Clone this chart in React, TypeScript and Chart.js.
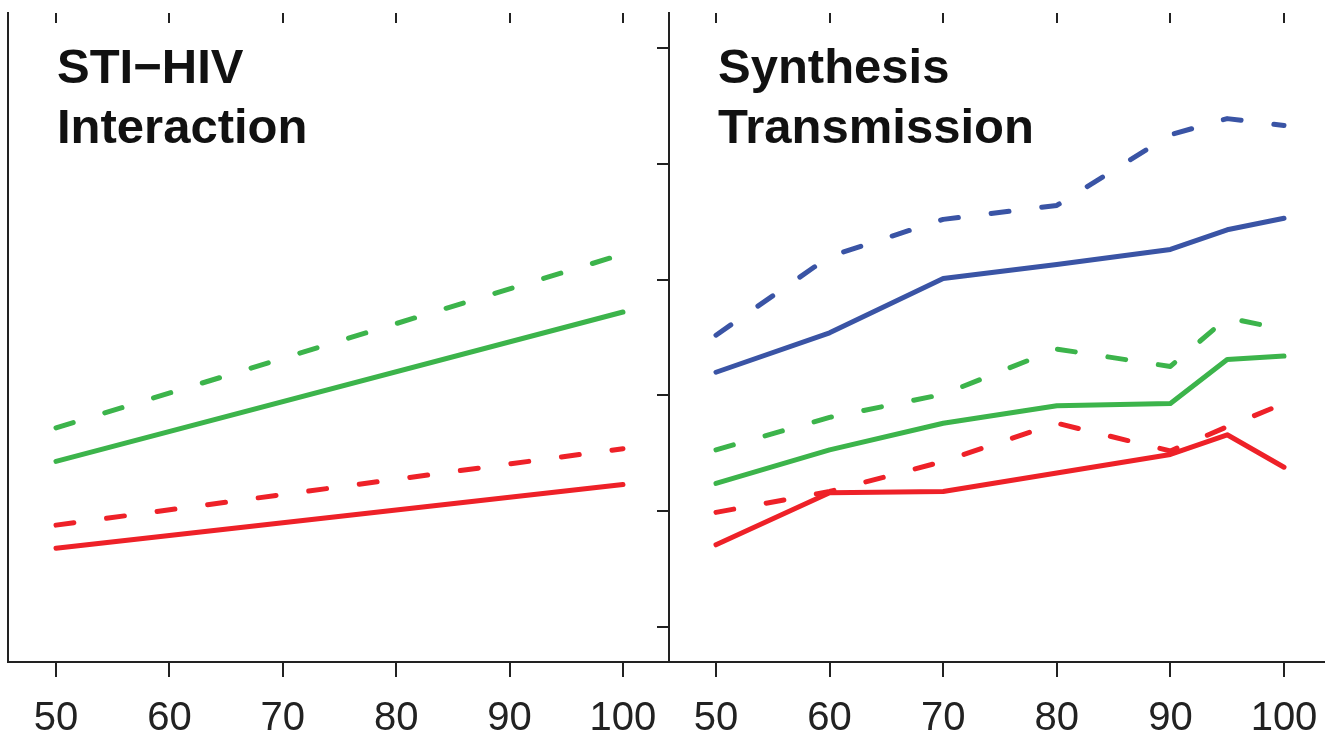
import React, { useEffect, useRef } from "react";
import { Chart, registerables } from "chart.js";

Chart.register(...registerables);
Chart.defaults.font.family = "'Liberation Sans', Arial, Helvetica, sans-serif";

// ---- data ----
const X_TICKS = [50, 60, 70, 80, 90, 100];
const Y_TICKS = [0, 1, 2, 3, 4, 5];

const LEFT_X = [50, 100];
const LEFT_GREEN_DASHED = [1.72, 3.22];
const LEFT_GREEN_SOLID = [1.43, 2.72];
const LEFT_RED_DASHED = [0.88, 1.54];
const LEFT_RED_SOLID = [0.68, 1.23];

const RIGHT_X = [50, 60, 70, 80, 90, 95, 100];
const RIGHT_BLUE_DASHED = [2.52, 3.2, 3.52, 3.64, 4.25, 4.39, 4.33];
const RIGHT_BLUE_SOLID = [2.2, 2.54, 3.01, 3.13, 3.26, 3.43, 3.53];
const RIGHT_GREEN_DASHED = [1.53, 1.81, 2.01, 2.4, 2.25, 2.67, 2.57];
const RIGHT_GREEN_SOLID = [1.24, 1.53, 1.76, 1.91, 1.93, 2.31, 2.34];
const RIGHT_RED_DASHED = [0.99, 1.17, 1.43, 1.76, 1.52, 1.73, 1.93];
const RIGHT_RED_SOLID = [0.71, 1.16, 1.17, 1.33, 1.49, 1.66, 1.38];

const LEFT_TITLE = ["STI\u2212HIV", "Interaction"];
const RIGHT_TITLE = ["Synthesis", "Transmission"];

// ---- styles ----
const GREEN = "#3cb44b";
const RED = "#ee2128";
const BLUE = "#3a54a5";
const AXIS = "#222222";
const DASH = [18, 33];

const pts = (xs: number[], ys: number[]) => xs.map((x, i) => ({ x, y: ys[i] }));

const ds = (xs: number[], ys: number[], color: string, dashed: boolean) => ({
  data: pts(xs, ys),
  borderColor: color,
  backgroundColor: color,
  borderWidth: 5,
  borderDash: dashed ? DASH : [],
  borderCapStyle: "round" as const,
  borderJoinStyle: "round" as const,
  pointRadius: 0,
  tension: 0,
  fill: false,
});

const topTicksPlugin = {
  id: "topTicks",
  afterDraw(chart: any) {
    const { ctx, chartArea } = chart;
    const xs = chart.scales.x;
    ctx.save();
    ctx.strokeStyle = AXIS;
    ctx.lineWidth = 2;
    X_TICKS.forEach((v) => {
      const px = Math.round(xs.getPixelForValue(v));
      ctx.beginPath();
      ctx.moveTo(px, chartArea.top);
      ctx.lineTo(px, chartArea.top + 10);
      ctx.stroke();
    });
    ctx.restore();
  },
};

const panelTitlePlugin = {
  id: "panelTitle",
  afterDraw(chart: any, _args: any, opts: any) {
    const { ctx, chartArea } = chart;
    ctx.save();
    ctx.fillStyle = "#111111";
    ctx.font = "bold 49px 'Liberation Sans', Arial, Helvetica, sans-serif";
    ctx.textAlign = "left";
    ctx.textBaseline = "alphabetic";
    (opts.lines || []).forEach((t: string, i: number) => {
      ctx.fillText(t, chartArea.left + 49, chartArea.top + 70 + i * 60);
    });
    ctx.restore();
  },
};

function makeConfig(
  datasets: any[],
  xMin: number,
  xMax: number,
  yWidth: number,
  yTicks: boolean,
  title: string[]
): any {
  return {
    type: "line",
    data: { datasets },
    options: {
      animation: false,
      responsive: false,
      devicePixelRatio: 1,
      layout: { padding: { top: 13, left: 0, right: 0, bottom: 0 } },
      plugins: {
        legend: { display: false },
        tooltip: { enabled: false },
        title: { display: false },
        panelTitle: { lines: title },
      },
      scales: {
        x: {
          type: "linear",
          position: "bottom",
          min: xMin,
          max: xMax,
          afterBuildTicks: (s: any) => {
            s.ticks = X_TICKS.map((v) => ({ value: v }));
          },
          afterFit: (s: any) => {
            s.height = 75;
            s.paddingLeft = 0;
            s.paddingRight = 0;
          },
          grid: {
            drawOnChartArea: false,
            drawTicks: true,
            tickLength: 15,
            color: AXIS,
            lineWidth: 2,
          },
          border: { display: true, color: AXIS, width: 2 },
          ticks: {
            font: { size: 40 },
            color: AXIS,
            padding: 18,
            maxRotation: 0,
            autoSkip: false,
            callback: (v: any) => String(v),
          },
        },
        y: {
          type: "linear",
          min: -0.302,
          max: 5.302,
          afterBuildTicks: (s: any) => {
            s.ticks = Y_TICKS.map((v) => ({ value: v }));
          },
          afterFit: (s: any) => {
            s.width = yWidth;
            s.paddingTop = 0;
            s.paddingBottom = 0;
          },
          grid: {
            drawOnChartArea: false,
            drawTicks: yTicks,
            tickLength: 12,
            color: AXIS,
            lineWidth: 2,
          },
          border: { display: true, color: AXIS, width: 2 },
          ticks: { display: false },
        },
      },
    },
    plugins: [topTicksPlugin, panelTitlePlugin],
  };
}

export default function App() {
  const leftRef = useRef<HTMLCanvasElement>(null);
  const rightRef = useRef<HTMLCanvasElement>(null);

  useEffect(() => {
    const leftSets = [
      ds(LEFT_X, LEFT_GREEN_DASHED, GREEN, true),
      ds(LEFT_X, LEFT_GREEN_SOLID, GREEN, false),
      ds(LEFT_X, LEFT_RED_DASHED, RED, true),
      ds(LEFT_X, LEFT_RED_SOLID, RED, false),
    ];
    const rightSets = [
      ds(RIGHT_X, RIGHT_BLUE_DASHED, BLUE, true),
      ds(RIGHT_X, RIGHT_BLUE_SOLID, BLUE, false),
      ds(RIGHT_X, RIGHT_GREEN_DASHED, GREEN, true),
      ds(RIGHT_X, RIGHT_GREEN_SOLID, GREEN, false),
      ds(RIGHT_X, RIGHT_RED_DASHED, RED, true),
      ds(RIGHT_X, RIGHT_RED_SOLID, RED, false),
    ];
    const c1 = new Chart(
      leftRef.current as HTMLCanvasElement,
      makeConfig(leftSets, 45.767, 104.06, 8, false, LEFT_TITLE)
    );
    const c2 = new Chart(
      rightRef.current as HTMLCanvasElement,
      makeConfig(rightSets, 45.863, 103.609, 69, true, RIGHT_TITLE)
    );
    return () => {
      c1.destroy();
      c2.destroy();
    };
  }, []);

  return (
    <div
      style={{
        position: "fixed",
        left: 0,
        top: 0,
        width: 1325,
        height: 737,
        background: "#ffffff",
        overflow: "hidden",
      }}
    >
      <canvas
        ref={leftRef}
        width={669}
        height={737}
        style={{ position: "absolute", left: 0, top: 0 }}
      />
      <canvas
        ref={rightRef}
        width={725}
        height={737}
        style={{ position: "absolute", left: 600, top: 0 }}
      />
    </div>
  );
}
